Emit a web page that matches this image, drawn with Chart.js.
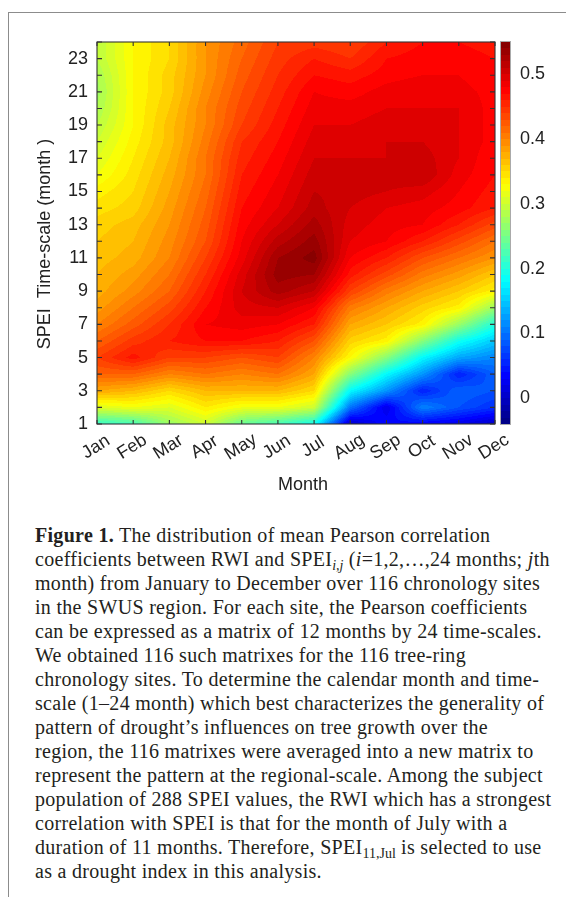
<!DOCTYPE html>
<html>
<head>
<meta charset="utf-8">
<script src="https://cdn.jsdelivr.net/npm/chart.js@4.4.1/dist/chart.umd.min.js"></script>
<style>
  html, body { margin: 0; padding: 0; background: #fff; }
  body { width: 566px; height: 897px; position: relative; overflow: hidden; }
  #frame { position: absolute; left: 8px; top: 12px; right: -2px; bottom: -2px;
           border-top: 1.5px solid #8c8c8c; border-left: 1.5px solid #8c8c8c; }
  #wrap { position: absolute; left: 0; top: 0; width: 566px; height: 500px; }
  #caption { position: absolute; left: 35px; top: 523px; font-family: "Liberation Serif", "Times New Roman", serif;
             font-size: 20px; line-height: 24px; letter-spacing: 0.3px; color: #231f20; white-space: nowrap; }
  #caption sub { font-size: 70%; line-height: 0; vertical-align: -0.28em; letter-spacing: 0; }
</style>
</head>
<body>
<div id="frame"></div>
<div id="wrap"><canvas id="heat" width="566" height="500"></canvas></div>
<div id="caption">
<b>Figure 1.</b> The distribution of mean Pearson correlation<br>
coefficients between RWI and SPEI<sub><i>i,j</i></sub> (<i>i</i>=1,2,…,24 months; <i>j</i>th<br>
month) from January to December over 116 chronology sites<br>
in the SWUS region. For each site, the Pearson coefficients<br>
can be expressed as a matrix of 12 months by 24 time-scales.<br>
We obtained 116 such matrixes for the 116 tree-ring<br>
chronology sites. To determine the calendar month and time-<br>
scale (1–24 month) which best characterizes the generality of<br>
pattern of drought’s influences on tree growth over the<br>
region, the 116 matrixes were averaged into a new matrix to<br>
represent the pattern at the regional-scale. Among the subject<br>
population of 288 SPEI values, the RWI which has a strongest<br>
correlation with SPEI is that for the month of July with a<br>
duration of 11 months. Therefore, SPEI<sub>11,Jul</sub> is selected to use<br>
as a drought index in this analysis.
</div>
<script>
// months on x, SPEI time-scale 1..24 on y
const months = ['Jan', 'Feb', 'Mar', 'Apr', 'May', 'Jun', 'Jul', 'Aug', 'Sep', 'Oct', 'Nov', 'Dec'];
const timeScales = [1, 2, 3, 4, 5, 6, 7, 8, 9, 10, 11, 12, 13, 14, 15, 16, 17, 18, 19, 20, 21, 22, 23, 24];
const colorTicks = [0, 0.1, 0.2, 0.3, 0.4, 0.5];
const colorMin = -0.04;
const colorMax = 0.55;

// mean r for each month, time-scale 1 -> 24
const jan = [0.21, 0.31, 0.38, 0.42, 0.44, 0.42, 0.40, 0.385, 0.375, 0.37, 0.365, 0.36, 0.355, 0.345, 0.335, 0.32, 0.31, 0.30, 0.29, 0.28, 0.275, 0.28, 0.29, 0.29];
const feb = [0.22, 0.32, 0.37, 0.42, 0.465, 0.445, 0.425, 0.41, 0.395, 0.385, 0.375, 0.37, 0.365, 0.355, 0.35, 0.345, 0.34, 0.335, 0.33, 0.33, 0.33, 0.33, 0.33, 0.33];
const mar = [0.27, 0.31, 0.35, 0.40, 0.44, 0.46, 0.45, 0.435, 0.42, 0.41, 0.40, 0.395, 0.39, 0.385, 0.38, 0.375, 0.37, 0.365, 0.365, 0.36, 0.355, 0.355, 0.35, 0.35];
const apr = [0.30, 0.34, 0.37, 0.41, 0.44, 0.47, 0.48, 0.47, 0.46, 0.45, 0.44, 0.43, 0.425, 0.42, 0.415, 0.41, 0.41, 0.405, 0.40, 0.40, 0.395, 0.39, 0.39, 0.39];
const may = [0.24, 0.32, 0.37, 0.40, 0.43, 0.47, 0.485, 0.495, 0.50, 0.495, 0.485, 0.48, 0.475, 0.47, 0.465, 0.46, 0.455, 0.45, 0.44, 0.435, 0.43, 0.425, 0.42, 0.415];
const jun = [0.22, 0.32, 0.37, 0.41, 0.44, 0.46, 0.48, 0.50, 0.525, 0.535, 0.53, 0.515, 0.50, 0.49, 0.485, 0.48, 0.475, 0.47, 0.465, 0.46, 0.455, 0.45, 0.445, 0.44];
const jul = [0.19, 0.30, 0.35, 0.38, 0.40, 0.43, 0.46, 0.48, 0.51, 0.53, 0.545, 0.535, 0.525, 0.515, 0.51, 0.505, 0.50, 0.495, 0.49, 0.485, 0.48, 0.47, 0.46, 0.445];
const aug = [0.00, 0.10, 0.18, 0.26, 0.33, 0.355, 0.38, 0.405, 0.44, 0.465, 0.48, 0.49, 0.495, 0.50, 0.505, 0.505, 0.50, 0.495, 0.49, 0.485, 0.475, 0.465, 0.45, 0.44];
const sep = [0.04, 0.02, 0.12, 0.18, 0.26, 0.335, 0.36, 0.38, 0.405, 0.435, 0.46, 0.48, 0.485, 0.49, 0.50, 0.505, 0.50, 0.50, 0.495, 0.49, 0.485, 0.475, 0.47, 0.46];
const oct = [0.03, 0.11, 0.05, 0.12, 0.18, 0.26, 0.335, 0.355, 0.38, 0.405, 0.43, 0.46, 0.48, 0.485, 0.495, 0.51, 0.505, 0.50, 0.495, 0.49, 0.49, 0.48, 0.475, 0.47];
const nov = [0.02, 0.08, 0.09, 0.05, 0.13, 0.19, 0.27, 0.335, 0.36, 0.385, 0.41, 0.435, 0.46, 0.475, 0.48, 0.485, 0.49, 0.49, 0.49, 0.49, 0.485, 0.48, 0.475, 0.47];
const dec = [0.00, 0.06, 0.08, 0.09, 0.11, 0.15, 0.20, 0.27, 0.335, 0.36, 0.39, 0.41, 0.435, 0.46, 0.465, 0.47, 0.47, 0.475, 0.475, 0.475, 0.475, 0.47, 0.47, 0.465];

const grid = [jan, feb, mar, apr, may, jun, jul, aug, sep, oct, nov, dec];

const inkColor = '#222';
const fontFamily = '"Liberation Sans", Arial, sans-serif';

function jet(t) {
  t = Math.min(1, Math.max(0, t));
  const c = v => Math.round(255 * Math.min(1, Math.max(0, v)));
  return [c(1.5 - Math.abs(4 * t - 3)), c(1.5 - Math.abs(4 * t - 2)), c(1.5 - Math.abs(4 * t - 1))];
}

// contour-like banding
function level(v) {
  return (Math.floor(v / 0.01) + 0.5) * 0.01;
}

function sample(mv, sv) {
  const fi = Math.min(months.length - 1, Math.max(0, mv - 1));
  const fj = Math.min(timeScales.length - 1, Math.max(0, sv - 1));
  const i0 = Math.min(months.length - 2, Math.floor(fi));
  const j0 = Math.min(timeScales.length - 2, Math.floor(fj));
  const tx = fi - i0, ty = fj - j0;
  const a = grid[i0][j0], b = grid[i0 + 1][j0], c = grid[i0][j0 + 1], d = grid[i0 + 1][j0 + 1];
  return a * (1 - tx) * (1 - ty) + b * tx * (1 - ty) + c * (1 - tx) * ty + d * tx * ty;
}

const heatmapPlugin = {
  id: 'heatmap',
  beforeDatasetsDraw(chart) {
    const { ctx, chartArea: area, scales: { x, y } } = chart;
    const dpr = chart.currentDevicePixelRatio;
    const x0 = Math.round(area.left * dpr), y0 = Math.round(area.top * dpr);
    const w = Math.round(area.right * dpr) - x0, h = Math.round(area.bottom * dpr) - y0;
    const img = ctx.createImageData(w, h);
    for (let py = 0; py < h; py++) {
      const sv = y.getValueForPixel((y0 + py + 0.5) / dpr);
      for (let px = 0; px < w; px++) {
        const mv = x.getValueForPixel((x0 + px + 0.5) / dpr);
        const v = level(sample(mv, sv));
        const col = jet((v - colorMin) / (colorMax - colorMin));
        const k = (py * w + px) * 4;
        img.data[k] = col[0];
        img.data[k + 1] = col[1];
        img.data[k + 2] = col[2];
        img.data[k + 3] = 255;
      }
    }
    ctx.putImageData(img, x0, y0);
  },
  afterDraw(chart) {
    const { ctx, chartArea: area, scales: { x, y, cb } } = chart;
    ctx.save();

    // colour bar
    const barLeft = area.right + 6, barW = 9;
    for (let py = Math.floor(area.top); py < area.bottom; py++) {
      const v = level(cb.getValueForPixel(py + 0.5));
      const col = jet((v - colorMin) / (colorMax - colorMin));
      ctx.fillStyle = 'rgb(' + col.join(',') + ')';
      ctx.fillRect(barLeft, py, barW, 1);
    }
    ctx.strokeStyle = '#aaa';
    ctx.lineWidth = 1;
    ctx.strokeRect(barLeft - 0.5, area.top - 0.5, barW + 1, area.bottom - area.top + 1);

    // frame and inner ticks
    ctx.strokeStyle = '#333';
    ctx.lineWidth = 1.1;
    ctx.strokeRect(area.left, area.top, area.right - area.left, area.bottom - area.top);
    ctx.beginPath();
    months.forEach((m, i) => {
      const px = x.getPixelForValue(i + 1);
      ctx.moveTo(px, area.top); ctx.lineTo(px, area.top + 4);
      ctx.moveTo(px, area.bottom); ctx.lineTo(px, area.bottom - 4);
    });
    timeScales.forEach(s => {
      const py = y.getPixelForValue(s);
      ctx.moveTo(area.left, py); ctx.lineTo(area.left + 5, py);
      ctx.moveTo(area.right, py); ctx.lineTo(area.right - 5, py);
    });
    ctx.stroke();

    // month labels, rotated and centred on their ticks
    ctx.fillStyle = inkColor;
    ctx.font = '18px ' + fontFamily;
    ctx.textAlign = 'center';
    ctx.textBaseline = 'middle';
    months.forEach((m, i) => {
      const px = x.getPixelForValue(i + 1);
      ctx.save();
      ctx.translate(px - 1, area.bottom + 23);
      ctx.rotate(-32 * Math.PI / 180);
      ctx.fillText(m, 0, 0);
      ctx.restore();
    });

    // axis titles
    ctx.fillText('Month', (area.left + area.right) / 2 + 7, area.bottom + 61);
    ctx.save();
    ctx.translate(45, (area.top + area.bottom) / 2 + 11);
    ctx.rotate(-Math.PI / 2);
    ctx.fillText('SPEI  Time-scale (month )', 0, 0);
    ctx.restore();

    ctx.restore();
  }
};

const ctx = document.getElementById('heat').getContext('2d');
const heatChart = new Chart(ctx, {
  type: 'scatter',
  data: { datasets: [] },
  plugins: [heatmapPlugin],
  options: {
    responsive: false,
    animation: false,
    events: [],
    layout: { padding: { left: 0, right: 0, top: 42, bottom: 76 } },
    plugins: { legend: { display: false }, tooltip: { enabled: false } },
    scales: {
      x: {
        type: 'linear', min: 1, max: 12, display: false
      },
      y: {
        type: 'linear', position: 'left', min: 1, max: 24,
        afterBuildTicks: scale => { scale.ticks = timeScales.map(v => ({ value: v })); },
        afterFit: scale => { scale.width = 97; },
        grid: { drawOnChartArea: false, drawTicks: false },
        border: { display: false },
        ticks: {
          autoSkip: false, padding: 9, color: inkColor,
          font: { family: fontFamily, size: 18 },
          callback: v => (v % 2 === 1 ? String(v) : '')
        }
      },
      cb: {
        type: 'linear', position: 'right', min: colorMin, max: colorMax,
        afterBuildTicks: scale => { scale.ticks = colorTicks.map(v => ({ value: v })); },
        afterFit: scale => { scale.width = 71; },
        grid: { drawOnChartArea: false, drawTicks: false },
        border: { display: false },
        ticks: {
          autoSkip: false, padding: 25, color: inkColor,
          font: { family: fontFamily, size: 18 },
          callback: v => String(v)
        }
      }
    }
  }
});
</script>
</body>
</html>
